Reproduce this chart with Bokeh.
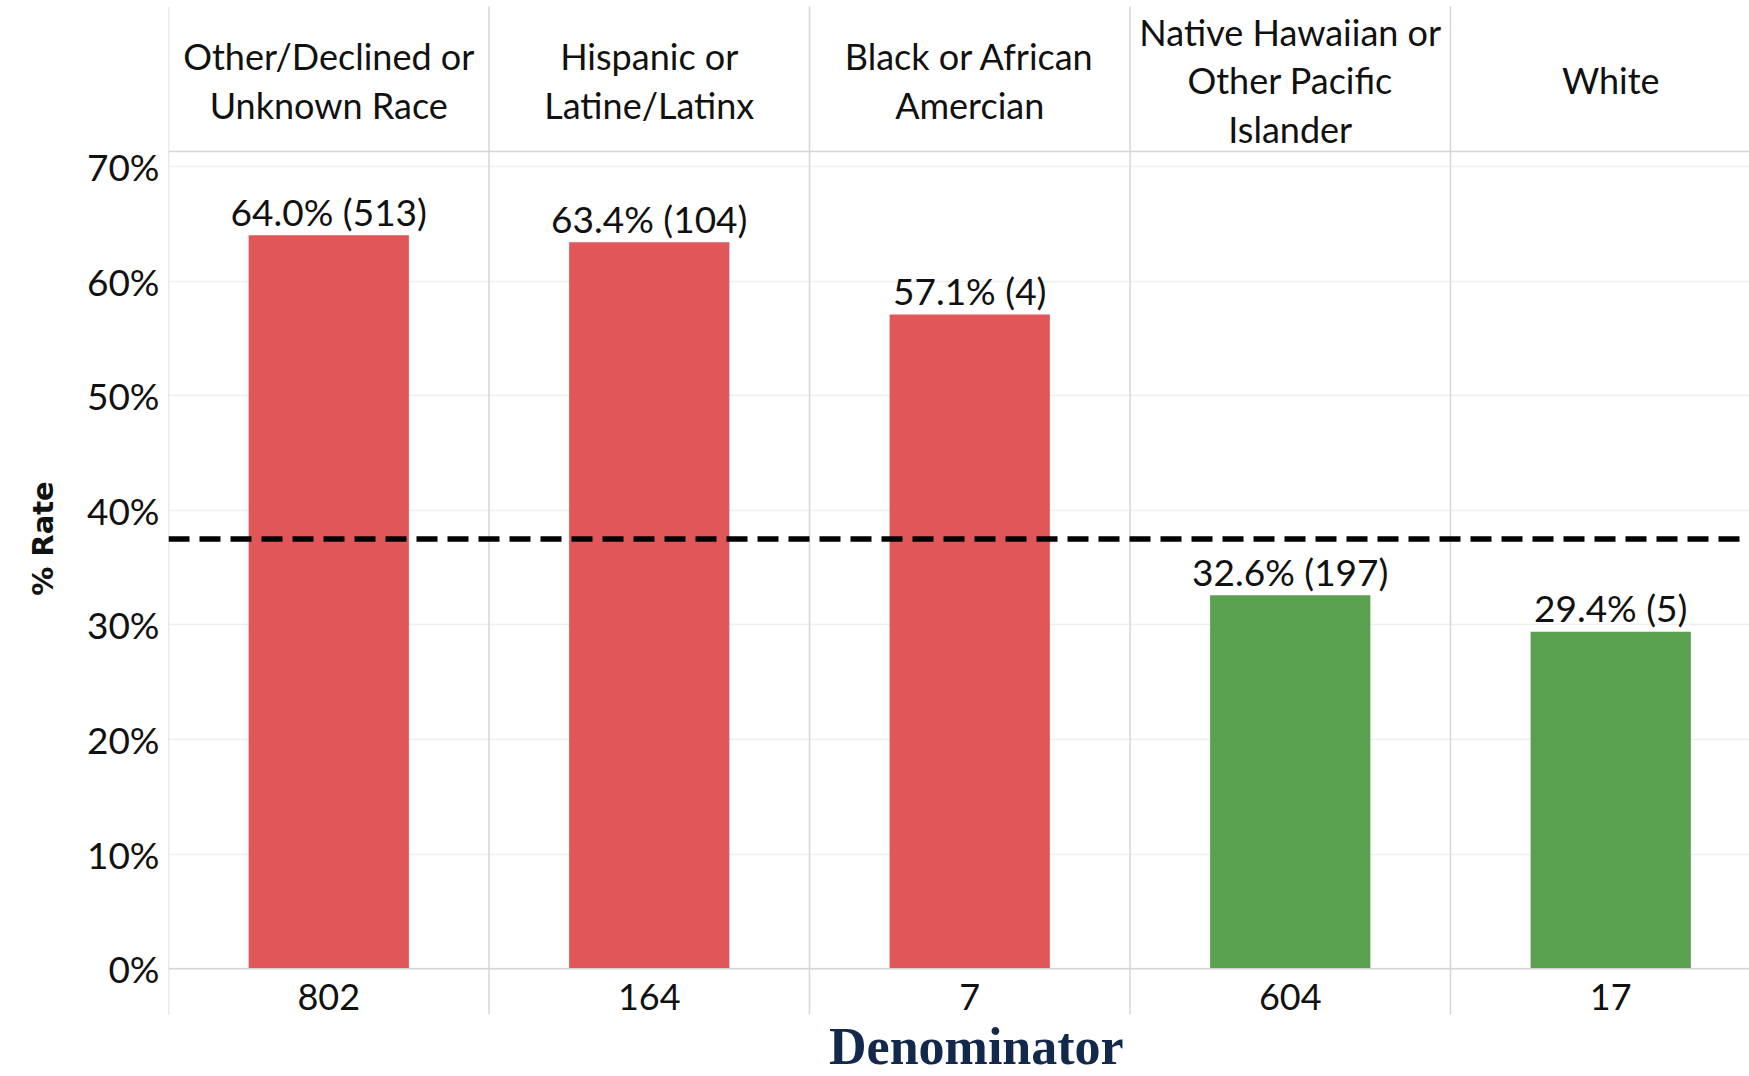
from bokeh.plotting import figure
from bokeh.models import Range1d, FixedTicker, Span, Label, NumeralTickFormatter
from bokeh.core.properties import value
from bokeh.embed import file_html
from bokeh.resources import INLINE

# ---- data ----
categories = [
    "Other/Declined or\nUnknown Race",
    "Hispanic or\nLatine/Latinx",
    "Black or African\nAmercian",
    "Native Hawaiian or\nOther Pacific\nIslander",
    "White",
]
rates = [0.640, 0.634, 0.571, 0.326, 0.294]
numerators = [513, 104, 4, 197, 5]
denominators = [802, 164, 7, 604, 17]
reference_rate = 0.375
y_ticks = [0.0, 0.1, 0.2, 0.3, 0.4, 0.5, 0.6, 0.7]
x_title = "Denominator"
y_title = "% Rate"

# ---- styles ----
RED = "#E15759"
GREEN = "#59A14F"
bar_colors = [RED if r > reference_rate else GREEN for r in rates]
TXT = "#111111"
DIV = "#d6d6d6"
FONT = value("Lato")

n = len(categories)
xs = [i + 0.5 for i in range(n)]
bar_labels = [f"{r*100:.1f}% ({k})" for r, k in zip(rates, numerators)]
denom_labels = [str(d) for d in denominators]

# layout (data units)
Y_BOTTOM, Y_TOP = -0.0940, 0.8449
DIV_Y0, DIV_Y1 = -0.0399, 0.8397
HEADER_Y = 0.7751
HEADER_LINE_Y = 0.7132
DENOM_Y = -0.0242
XTITLE_Y = -0.0678

p = figure(width=1749, height=1076, output_backend="svg", toolbar_location=None,
           x_range=Range1d(0, 4.933), y_range=Range1d(Y_BOTTOM, Y_TOP),
           min_border_left=168, min_border_right=0, min_border_top=0, min_border_bottom=0,
           title=None)
p.outline_line_color = None
p.background_fill_color = "white"
p.border_fill_color = "white"

# grid
p.xgrid.visible = False
p.ygrid.ticker = FixedTicker(ticks=y_ticks)
p.ygrid.grid_line_color = "#efefef"
p.ygrid.grid_line_width = 1.5

# column dividers and table rules
p.segment(x0=list(range(n)), y0=[DIV_Y0] * n, x1=list(range(n)), y1=[DIV_Y1] * n,
          line_color=DIV, line_width=1.5)
p.add_layout(Span(location=HEADER_LINE_Y, dimension="width", line_color=DIV, line_width=1.5))
p.add_layout(Span(location=0, dimension="width", line_color=DIV, line_width=1.5))

# bars
p.vbar(x=xs, top=rates, bottom=0, width=0.5, fill_color=bar_colors, line_color=None)

# bar labels
p.text(x=xs, y=rates, text=bar_labels, text_align="center", text_baseline="alphabetic",
       y_offset=-24, text_font=FONT, text_font_size="37px", text_color=TXT)

# header labels
p.text(x=xs, y=[HEADER_Y] * n, text=categories, text_align="center", text_baseline="middle",
       text_line_height=1.1, text_font=FONT, text_font_size="36px", text_color=TXT)

# denominators
p.text(x=xs, y=[DENOM_Y] * n, text=denom_labels, text_align="center", text_baseline="middle",
       text_font=FONT, text_font_size="36px", text_color=TXT)

# reference line
p.add_layout(Span(location=reference_rate, dimension="width", line_color="black",
                  line_width=5.5, line_dash="21 10"))

# axes
p.xaxis.visible = False
ya = p.yaxis[0]
ya.ticker = FixedTicker(ticks=y_ticks)
ya.formatter = NumeralTickFormatter(format="0%")
ya.axis_line_color = None
ya.major_tick_line_color = None
ya.minor_tick_line_color = None
ya.major_label_standoff = 3
ya.major_label_text_font = "Lato"
ya.major_label_text_font_size = "37px"
ya.major_label_text_color = TXT
ya.axis_label = y_title
ya.axis_label_text_font = "DejaVu Sans"
ya.axis_label_text_font_style = "bold"
ya.axis_label_text_font_size = "29px"
ya.axis_label_text_color = TXT
ya.axis_label_standoff = 24

# x title below the denominator row
p.add_layout(Label(x=2.5206, y=XTITLE_Y, text=x_title, text_align="center",
                   text_baseline="middle", text_font="Liberation Serif",
                   text_font_style="bold", text_font_size="52px", text_color="#13294b"))

open("out.html", "w").write(file_html(p, INLINE))
